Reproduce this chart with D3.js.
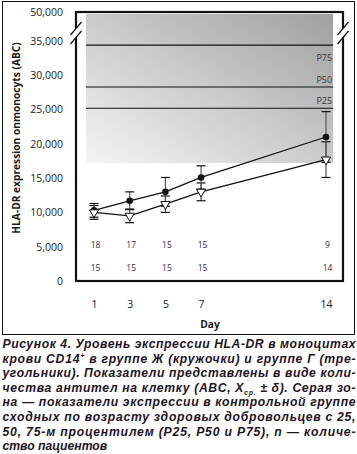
<!DOCTYPE html>
<html><head><meta charset="utf-8">
<script src="https://cdn.jsdelivr.net/npm/d3@7"></script>
<style>
html,body{margin:0;padding:0;background:#fff;}
svg{display:block;}
</style></head>
<body>
<svg id="c" width="357" height="454"></svg>
<script>
// ---- data ----
const days = [1, 3, 5, 7, 14];
const circleMean = [10300, 11700, 13000, 15100, 21000];
const circleSD   = [1000, 1300, 2100, 1700, 3700];
const triMean    = [10000, 9500, 11200, 13000, 17700];
const triSD      = [1000, 1000, 1200, 1300, 2600];
const nCircle = [18, 17, 15, 15, 9];
const nTri    = [15, 15, 15, 15, 14];
const yTicks = [0, 5000, 10000, 15000, 20000, 25000, 30000, 35000, 50000];
const percentileNames = ["P75", "P50", "P25"];
const percentileValues = [34400, 28300, 25200];
const zoneDays = [0.55, 14.4];
const zoneValues = [17200, 49000];
const captionLines = [
  "Рисунок 4. Уровень экспрессии HLA-DR в моноцитах",
  "крови CD14|+| в группе Ж (кружочки) и группе Г (тре-",
  "угольники). Показатели представлены в виде коли-",
  "чества антител на клетку (ABC, X_ср._ ± δ). Серая зо-",
  "на — показатели экспрессии в контрольной группе",
  "сходных по возрасту здоровых добровольцев с 25,",
  "50, 75-м процентилем (P25, P50 и P75), n — количе-",
  "ство пациентов"
];

// ---- layout ----
const svg = d3.select("#c");
const L = 76, T = 12, R = 343, B = 281;
const x = d3.scaleLinear().domain([1, 14]).range([94, 326]);
const y = d3.scaleLinear().domain([0, 35000, 50000]).range([B, 41, T]);

// outer frame
svg.append("rect").attr("x", 2.5).attr("y", 1.5).attr("width", 352).attr("height", 333)
  .attr("fill", "none").attr("stroke", "#111").attr("stroke-width", 1);

// gradient
const defs = svg.append("defs");
const g = defs.append("linearGradient").attr("id", "zone")
  .attr("x1", 0).attr("y1", 1).attr("x2", 1).attr("y2", 0);
g.append("stop").attr("offset", 0).attr("stop-color", "#f5f5f5");
g.append("stop").attr("offset", 1).attr("stop-color", "#a0a0a0");

svg.append("rect")
  .attr("x", x(zoneDays[0])).attr("y", y(zoneValues[1]))
  .attr("width", x(zoneDays[1]) - x(zoneDays[0]))
  .attr("height", y(zoneValues[0]) - y(zoneValues[1]))
  .attr("fill", "url(#zone)");

// percentile lines
svg.selectAll(".pl").data(percentileValues).join("line")
  .attr("x1", x(zoneDays[0])).attr("x2", x(zoneDays[1]))
  .attr("y1", d => y(d)).attr("y2", d => y(d))
  .attr("stroke", "#111").attr("stroke-width", 1.1);
const labelDy = [16, -4, -4];
svg.selectAll(".plab").data(percentileNames).join("text")
  .attr("x", x(zoneDays[1]) - 1).attr("y", (d, i) => y(percentileValues[i]) + labelDy[i])
  .attr("text-anchor", "end").attr("font-family", "Open Sans").attr("font-size", 9)
  .attr("fill", "#333").text(d => d);

// series lines
const line = d3.line().x((d, i) => x(days[i])).y(d => y(d));
svg.append("path").datum(triMean).attr("d", line).attr("fill", "none")
  .attr("stroke", "#111").attr("stroke-width", 1.3);
svg.append("path").datum(circleMean).attr("d", line).attr("fill", "none")
  .attr("stroke", "#111").attr("stroke-width", 1.3);

// error bars
function errBars(means, sds) {
  const eg = svg.append("g");
  means.forEach((m, i) => {
    const cx = x(days[i]);
    eg.append("line").attr("x1", cx).attr("x2", cx).attr("y1", y(m - sds[i])).attr("y2", y(m + sds[i]))
      .attr("stroke", "#555").attr("stroke-width", 1.2);
    [m - sds[i], m + sds[i]].forEach(v => {
      eg.append("line").attr("x1", cx - 4.5).attr("x2", cx + 4.5).attr("y1", y(v)).attr("y2", y(v))
        .attr("stroke", "#111").attr("stroke-width", 1.2);
    });
  });
}
errBars(triMean, triSD);
errBars(circleMean, circleSD);

// markers
svg.selectAll(".cir").data(circleMean).join("circle")
  .attr("cx", (d, i) => x(days[i])).attr("cy", d => y(d)).attr("r", 3.3).attr("fill", "#111");
const tri = d3.symbol().type(d3.symbolTriangle).size(36);
svg.selectAll(".tri").data(triMean).join("path")
  .attr("d", tri)
  .attr("transform", (d, i) => `translate(${x(days[i])},${y(d)}) rotate(180)`)
  .attr("fill", "#fff").attr("stroke", "#111").attr("stroke-width", 1);

// n counts
[nCircle, nTri].forEach((arr, r) => {
  svg.selectAll(".n" + r).data(arr).join("text")
    .attr("x", (d, i) => x(days[i]) + 1.5).attr("y", B - 33 + r * 22.5)
    .attr("text-anchor", "middle").attr("font-family", "Open Sans").attr("font-size", 8.5)
    .attr("fill", "#35284a").text(d => d);
});

// plot box
svg.append("rect").attr("x", L).attr("y", T).attr("width", R - L).attr("height", B - T)
  .attr("fill", "none").attr("stroke", "#111").attr("stroke-width", 2.2);

// axis breaks
[L, R].forEach(bx => {
  const cy = 32.5;
  svg.append("polygon")
    .attr("points", `${bx-6},${cy+2.5} ${bx+6},${cy-11.5} ${bx+6},${cy-2.5} ${bx-6},${cy+11.5}`)
    .attr("fill", "#fff");
  [cy - 4, cy + 5].forEach(yy => {
    svg.append("line").attr("x1", bx - 5.5).attr("y1", yy + 6.5).attr("x2", bx + 5.5).attr("y2", yy - 6.5)
      .attr("stroke", "#111").attr("stroke-width", 1.2);
  });
});

// axes
const yAxis = d3.axisLeft(y).tickValues(yTicks).tickSize(0).tickPadding(13)
  .tickFormat(d3.format(","));
const ya = svg.append("g").attr("transform", `translate(${L},0)`).call(yAxis);
ya.select(".domain").remove();
ya.selectAll("text").attr("font-family", "Open Sans").attr("font-size", 10.5).attr("fill", "#222");

const xAxis = d3.axisBottom(x).tickValues(days).tickSize(0).tickPadding(20);
const xa = svg.append("g").attr("transform", `translate(0,${B})`).call(xAxis);
xa.select(".domain").remove();
xa.selectAll("text").attr("font-family", "Open Sans").attr("font-size", 10.5).attr("fill", "#222");

// axis titles
svg.append("text").attr("transform", "translate(19.5,138) rotate(-90)")
  .attr("text-anchor", "middle").attr("font-family", "Open Sans").attr("font-weight", 700)
  .attr("font-size", 10.2).attr("fill", "#1a1a1a")
  .text("HLA-DR expression onmonocyts (ABC)");
svg.append("text").attr("x", 210).attr("y", 328).attr("text-anchor", "middle")
  .attr("font-family", "Open Sans").attr("font-weight", 700).attr("font-size", 10.2)
  .attr("fill", "#1a1a1a").text("Day");

// caption
const cap = svg.append("g").attr("font-family", "Liberation Sans").attr("font-weight", 700)
  .attr("font-style", "italic").attr("font-size", 12.2).attr("fill", "#1e1424");
captionLines.forEach((ln, i) => {
  const t = cap.append("text").attr("x", 2.5).attr("y", 348 + i * 14.6);
  if (i < captionLines.length - 1) t.attr("textLength", 353).attr("lengthAdjust", "spacing");
  const parts = ln.split(/(\|[^|]*\||_[^_]*_)/).filter(s => s.length);
  let pending = 0;
  parts.forEach(p => {
    let ts;
    if (p[0] === "|") {
      ts = t.append("tspan").attr("font-size", 7.5).attr("dy", pending - 4.5).text(p.slice(1, -1));
      pending = 4.5;
    } else if (p[0] === "_") {
      ts = t.append("tspan").attr("font-size", 7).attr("dy", pending + 3).text(p.slice(1, -1));
      pending = -3;
    } else {
      ts = t.append("tspan").text(p);
      if (pending) ts.attr("dy", pending);
      pending = 0;
    }
  });
});
</script>
</body></html>
